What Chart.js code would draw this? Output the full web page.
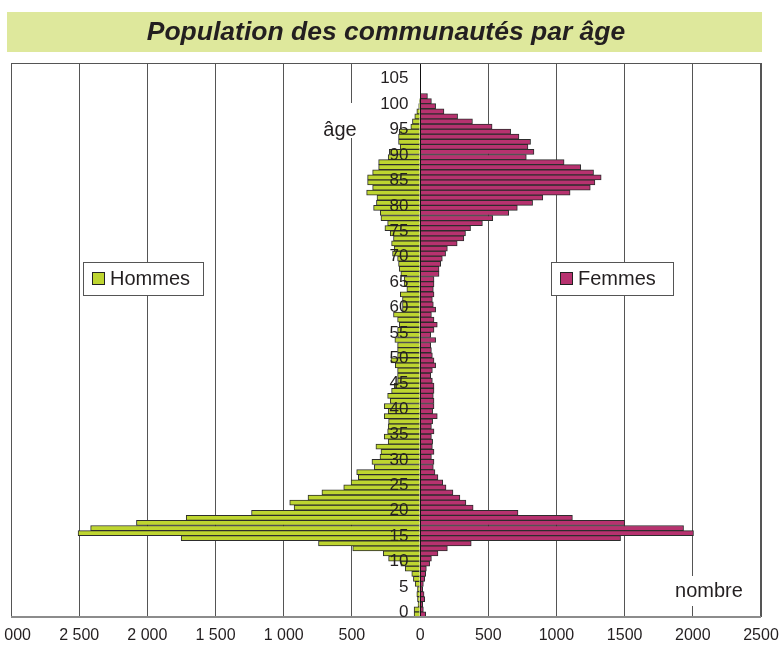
<!DOCTYPE html>
<html>
<head>
<meta charset="utf-8">
<script src="https://cdn.jsdelivr.net/npm/chart.js@4.4.1/dist/chart.umd.min.js"></script>
<style>
  html, body { margin: 0; padding: 0; background: #fff; }
  #wrap { width: 783px; height: 653px; position: relative; }
</style>
</head>
<body>
<div id="wrap"><canvas id="pyramide"></canvas></div>
<script>
// ages 0 .. 108 (one bar per year)
const ages = Array.from({length: 109}, (_, i) => String(i));
const ageTicks = [0, 5, 10, 15, 20, 25, 30, 35, 40, 45, 50, 55, 60, 65, 70, 75, 80, 85, 90, 95, 100, 105];

// Hommes, from age 0 upward
const hommes = [
  44, 44, 15, 19, 24, 19, 36, 49, 61, 109,
  141, 231, 270, 494, 745, 1752, 2508, 2416, 2080, 1715,
  1236, 924, 956, 822, 720, 560, 506, 453, 465, 336,
  353, 294, 287, 324, 234, 263, 238, 234, 231, 263,
  234, 263, 219, 238, 209, 190, 165, 165, 165, 182,
  214, 165, 165, 165, 185, 165, 165, 153, 165, 195,
  129, 129, 129, 145, 97, 117, 117, 141, 153, 158,
  165, 202, 190, 209, 195, 219, 258, 238, 287, 292,
  341, 320, 316, 392, 348, 385, 385, 348, 304, 304,
  234, 226, 146, 158, 158, 153, 68, 56, 39, 24,
  10, 5, 0, 0, 0, 0, 0, 0, 0
];

// Femmes, from age 0 upward
const femmes = [
  41, 24, 19, 34, 29, 19, 24, 34, 41, 46,
  70, 83, 131, 200, 375, 1470, 2005, 1932, 1501, 1117,
  718, 389, 336, 292, 241, 190, 166, 131, 109, 97,
  102, 83, 102, 90, 92, 83, 102, 83, 92, 126,
  92, 102, 102, 97, 102, 102, 90, 78, 90, 114,
  102, 90, 83, 78, 114, 78, 102, 126, 102, 83,
  114, 97, 90, 102, 97, 102, 102, 139, 139, 151,
  163, 187, 200, 272, 321, 333, 370, 457, 533, 650,
  713, 825, 900, 1100, 1248, 1282, 1328, 1272, 1178, 1056,
  779, 835, 791, 810, 725, 664, 528, 384, 275, 175,
  114, 83, 54, 0, 0, 0, 0, 0, 0
];

const VERT = '#bed530';
const ROSE = '#b7326f';
const TEXTE = '#231f20';

const fmtLeft = v => {
  const n = Math.abs(v);
  return n >= 1000 ? Math.floor(n / 1000) + ' ' + String(n % 1000).padStart(3, '0') : String(n);
};

const decorations = {
  id: 'decorations',
  beforeDraw(chart) {
    const {ctx} = chart;
    ctx.save();
    ctx.fillStyle = '#dee89c';
    ctx.fillRect(7, 12, 755, 40);
    ctx.restore();
  },
  afterDatasetsDraw(chart) {
    const {ctx, chartArea: {left, top, right, bottom}, scales: {x, y}} = chart;
    const x0 = Math.round(x.getPixelForValue(0)) + 0.5;
    ctx.save();
    // axe central
    ctx.strokeStyle = '#111';
    ctx.lineWidth = 1;
    ctx.beginPath();
    ctx.moveTo(x0, top);
    ctx.lineTo(x0, bottom);
    ctx.stroke();
    // cadre
    ctx.strokeStyle = '#555';
    ctx.strokeRect(left + 0.5, top + 0.5, right - left - 1, bottom - top - 1);
    ctx.strokeStyle = '#8c8c8c';
    ctx.lineWidth = 2;
    ctx.beginPath();
    ctx.moveTo(left, bottom);
    ctx.lineTo(right, bottom);
    ctx.stroke();
    ctx.lineWidth = 1;

    // âges au centre
    ctx.font = '17px "Liberation Sans", Arial, sans-serif';
    ctx.fillStyle = TEXTE;
    ctx.textAlign = 'right';
    ctx.textBaseline = 'middle';
    ageTicks.forEach(a => ctx.fillText(String(a), x0 - 12, y.getPixelForValue(a) - 2));

    // "âge" et "nombre"
    ctx.font = '20px "Liberation Sans", Arial, sans-serif';
    ctx.textAlign = 'center';
    ctx.fillStyle = '#fff';
    ctx.fillRect(318, 103, 44, 35);
    ctx.fillRect(668, 576, 84, 30);
    ctx.fillStyle = TEXTE;
    ctx.fillText('âge', 340, 130);
    ctx.fillText('nombre', 709, 591);

    // légendes
    const boxes = [
      {label: 'Hommes', color: VERT, x: 83, w: 120},
      {label: 'Femmes', color: ROSE, x: 551, w: 122}
    ];
    boxes.forEach(b => {
      ctx.fillStyle = '#fff';
      ctx.fillRect(b.x, 262, b.w, 33);
      ctx.strokeStyle = '#555';
      ctx.strokeRect(b.x + 0.5, 262.5, b.w, 33);
      ctx.fillStyle = b.color;
      ctx.fillRect(b.x + 9.5, 272.5, 12, 12);
      ctx.strokeStyle = '#222';
      ctx.strokeRect(b.x + 9.5, 272.5, 12, 12);
      ctx.fillStyle = TEXTE;
      ctx.textAlign = 'left';
      ctx.fillText(b.label, b.x + 27, 279);
    });
    ctx.restore();
  }
};

new Chart(document.getElementById('pyramide'), {
  type: 'bar',
  data: {
    labels: ages,
    datasets: [
      {
        label: 'Hommes',
        data: hommes.map(v => -v),
        backgroundColor: VERT,
        borderColor: '#2d2d2d',
        borderWidth: 1,
        barPercentage: 1,
        categoryPercentage: 1
      },
      {
        label: 'Femmes',
        data: femmes,
        backgroundColor: ROSE,
        borderColor: '#2d2d2d',
        borderWidth: 1,
        barPercentage: 1,
        categoryPercentage: 1
      }
    ]
  },
  options: {
    indexAxis: 'y',
    responsive: true,
    maintainAspectRatio: false,
    animation: false,
    layout: {
      padding: {left: 11, right: 22, top: 0, bottom: 0}
    },
    plugins: {
      legend: {display: false},
      tooltip: {enabled: false},
      title: {
        display: true,
        text: 'Population des communautés par âge',
        color: TEXTE,
        font: {family: '"Liberation Sans", Arial, sans-serif', size: 26.5, weight: 'bold', style: 'italic'},
        padding: {top: 16.5, bottom: 14.7}
      }
    },
    scales: {
      x: {
        stacked: true,
        min: -3000,
        max: 2500,
        grid: {
          color: '#555555',
          drawTicks: false
        },
        border: {display: false},
        ticks: {
          stepSize: 500,
          padding: 9,
          autoSkip: false,
          maxRotation: 0,
          color: TEXTE,
          font: {family: '"Liberation Sans", Arial, sans-serif', size: 16},
          callback: v => v < 0 ? fmtLeft(v) : String(v)
        },
        afterFit(scale) {
          scale.height = 36;
          scale.paddingLeft = 0;
          scale.paddingRight = 0;
        }
      },
      y: {
        stacked: true,
        reverse: true,
        display: false
      }
    }
  },
  plugins: [decorations]
});
</script>
</body>
</html>
